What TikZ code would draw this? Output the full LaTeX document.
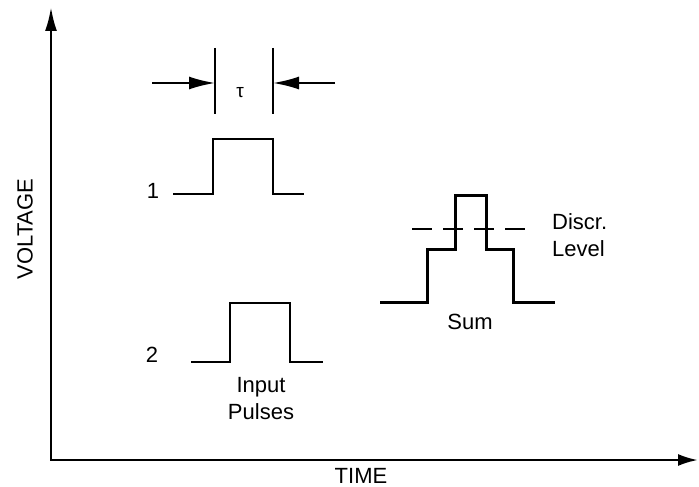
\documentclass[tikz,border=0pt]{standalone}
\usepackage{fontspec}
\setmainfont{Liberation Sans}
\usetikzlibrary{arrows.meta}

\begin{document}
\begin{tikzpicture}[
  x=1pt, y=-1pt,
  axes/.style={line width=2.6pt, {Latex[length=24pt,width=12pt]}-{Latex[length=20pt,width=12pt]}},
  pulse/.style={line width=2pt},
  sumpulse/.style={line width=3pt},
  marker/.style={line width=2pt},
  arr/.style={-{Latex[length=26pt,width=13pt]}, line width=2pt},
  lbl/.style={font=\fontsize{22}{27}\selectfont, inner sep=0pt, align=center},
  level/.style={line width=1.6pt, dash pattern=on 20pt off 11pt}
]
  \useasboundingbox (0,0) rectangle (699,487);

  \coordinate (ytop) at (51,7);
  \coordinate (xend) at (698,460);
  \draw[axes] (ytop) |- (xend);

  \node[lbl, rotate=90] (volt) at (25,229) {VOLTAGE};
  \node[lbl] (time) at (361,476) {TIME};

  \coordinate (tauL) at (215,48);
  \coordinate (tauR) at (273,48);
  \draw[marker] (tauL) -- ++(0,66);
  \draw[marker] (tauR) -- ++(0,66);
  \coordinate (inL) at (152,83);
  \coordinate (inR) at (335,83);
  \draw[arr] (inL) -- (inL -| tauL);
  \draw[arr] (inR) -- (inR -| tauR);
  \node[font=\fontsize{19}{22}\selectfont, inner sep=0pt] (tau) at (240,93) {τ};

  \node[lbl] (one) at (153,191) {1};
  \draw[pulse] (173,194) -- (213,194) -- (213,139) -- (273,139) -- (273,194) -- (304,194);

  \node[lbl] (two) at (152,355) {2};
  \draw[pulse] (191,362) -- (230,362) -- (230,303) -- (290,303) -- (290,362) -- (323,362);
  \node[lbl] (input) at (261,398.5) {Input\\Pulses};

  \draw[sumpulse] (380,302) -- (427,302) -- (427,249) -- (455,249) -- (455,195)
    -- (486,195) -- (486,249) -- (513,249) -- (513,302) -- (555,302);
  \node[lbl] (sum) at (470,322) {Sum};

  \draw[level] (412,229) -- (525,229);
  \node[lbl, align=left, anchor=west] (discr) at (552,235) {Discr.\\Level};
\end{tikzpicture}
\end{document}
